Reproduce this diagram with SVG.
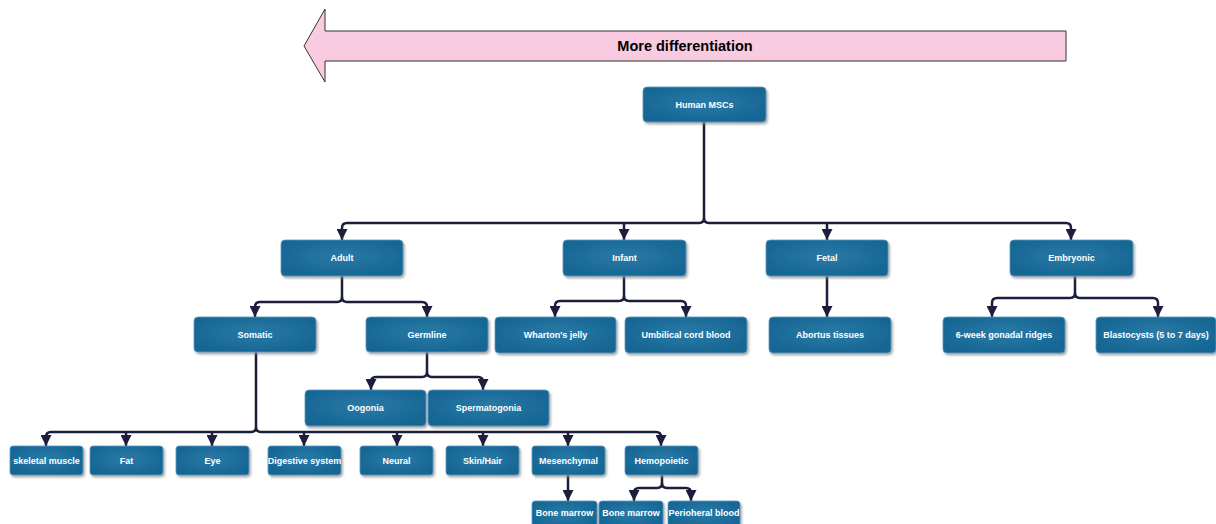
<svg xmlns="http://www.w3.org/2000/svg" width="1216" height="524" viewBox="0 0 1216 524">
<defs>
<style>
.n rect{fill:url(#g);stroke:#5b9cc0;stroke-width:0.8;filter:url(#sh)}
.n text{fill:#fff;font-family:"Liberation Sans",Arial,sans-serif;font-weight:bold;font-size:9px;text-anchor:middle;dominant-baseline:central}
.c path{fill:none;stroke:#1b1f3b;stroke-width:2.5}
.c .a{marker-end:url(#ar)}
</style>
<radialGradient id="g" cx="50%" cy="45%" r="60%">
<stop offset="0" stop-color="#2a7aa6"/>
<stop offset="1" stop-color="#156593"/>
</radialGradient>
<filter id="sh" x="-10%" y="-20%" width="125%" height="150%">
<feDropShadow dx="1.5" dy="2" stdDeviation="1.2" flood-color="#888" flood-opacity="0.7"/>
</filter>
<marker id="ar" markerUnits="userSpaceOnUse" markerWidth="11" markerHeight="11" refX="10" refY="5" orient="auto" viewBox="0 0 10 10">
<path d="M0,0 L10,5 L0,10 z" fill="#1b1f3b"/>
</marker>
</defs>
<rect width="1216" height="524" fill="#fff"/>
<g id="arrow">
<path d="M304,46 L325,9 L325,31 L1066,31 L1066,61 L325,61 L325,82 Z" fill="#f9cbe0" stroke="#333" stroke-width="1"/>
<text x="685" y="46" font-family="Liberation Sans,Arial,sans-serif" font-weight="bold" font-size="14.5" text-anchor="middle" dominant-baseline="central" fill="#000">More differentiation</text>
</g>
<g class="c" id="connectors">
<path class="a" d="M704,122 V218 Q704,223 699,223 H347 Q342,223 342,228 V240"/>
<path class="a" d="M704,218 Q704,223 709,223 H1066 Q1071,223 1071,228 V240"/>
<path class="a" d="M624,223 V240"/>
<path class="a" d="M827,223 V240"/>
<path class="a" d="M342,276 V297 Q342,302 337,302 H260 Q255,302 255,307 V317"/>
<path class="a" d="M342,297 Q342,302 347,302 H422 Q427,302 427,307 V317"/>
<path class="a" d="M624,276 V296 Q624,301 619,301 H560 Q555,301 555,306 V317"/>
<path class="a" d="M624,296 Q624,301 629,301 H681 Q686,301 686,306 V317"/>
<path class="a" d="M827,276 V317"/>
<path class="a" d="M1075,276 V293 Q1075,298 1070,298 H997 Q992,298 992,303 V317"/>
<path class="a" d="M1075,293 Q1075,298 1080,298 H1153 Q1158,298 1158,303 V317"/>
<path class="a" d="M427,352 V372 Q427,377 422,377 H376 Q371,377 371,382 V390"/>
<path class="a" d="M427,372 Q427,377 432,377 H478 Q483,377 483,382 V390"/>
<path class="a" d="M256,352 V427 Q256,432 251,432 H51 Q46,432 46,437 V446"/>
<path class="a" d="M256,427 Q256,432 261,432 H656 Q661,432 661,437 V446"/>
<path class="a" d="M126,432 V446"/>
<path class="a" d="M212,432 V446"/>
<path class="a" d="M304,432 V446"/>
<path class="a" d="M397,432 V446"/>
<path class="a" d="M483,432 V446"/>
<path class="a" d="M568,432 V446"/>
<path class="a" d="M568,475 V501"/>
<path class="a" d="M662,475 V483 Q662,488 657,488 H639 Q634,488 634,493 V501"/>
<path class="a" d="M662,483 Q662,488 667,488 H686 Q691,488 691,493 V501"/>
</g>
<g class="n" id="human-mscs"><rect x="643" y="87" width="123" height="35" rx="4"/><text x="704.5" y="104.5">Human MSCs</text></g>
<g class="n" id="adult"><rect x="281" y="240" width="122" height="36" rx="4"/><text x="342" y="258">Adult</text></g>
<g class="n" id="infant"><rect x="563" y="240" width="123" height="36" rx="4"/><text x="624.5" y="258">Infant</text></g>
<g class="n" id="fetal"><rect x="766" y="240" width="122" height="36" rx="4"/><text x="827" y="258">Fetal</text></g>
<g class="n" id="embryonic"><rect x="1010" y="240" width="123" height="36" rx="4"/><text x="1071.5" y="258">Embryonic</text></g>
<g class="n" id="somatic"><rect x="194" y="317" width="122" height="35" rx="4"/><text x="255" y="334.5">Somatic</text></g>
<g class="n" id="germline"><rect x="366" y="317" width="122" height="35" rx="4"/><text x="427" y="334.5">Germline</text></g>
<g class="n" id="whartons-jelly"><rect x="495" y="317" width="121" height="36" rx="4"/><text x="555.5" y="335">Wharton's jelly</text></g>
<g class="n" id="umbilical-cord-blood"><rect x="625" y="317" width="122" height="36" rx="4"/><text x="686" y="335">Umbilical cord blood</text></g>
<g class="n" id="abortus-tissues"><rect x="769" y="317" width="122" height="36" rx="4"/><text x="830" y="335">Abortus tissues</text></g>
<g class="n" id="gonadal-ridges"><rect x="943" y="317" width="122" height="36" rx="4"/><text x="1004" y="335">6-week gonadal ridges</text></g>
<g class="n" id="blastocysts"><rect x="1096" y="317" width="120" height="36" rx="4"/><text x="1156" y="335">Blastocysts (5 to 7 days)</text></g>
<g class="n" id="oogonia"><rect x="305" y="390" width="121" height="36" rx="4"/><text x="365.5" y="408">Oogonia</text></g>
<g class="n" id="spermatogonia"><rect x="428" y="390" width="121" height="36" rx="4"/><text x="488.5" y="408">Spermatogonia</text></g>
<g class="n" id="skeletal-muscle"><rect x="10" y="446" width="73" height="29" rx="3"/><text x="46.5" y="460.5">skeletal muscle</text></g>
<g class="n" id="fat"><rect x="90" y="446" width="73" height="29" rx="3"/><text x="126.5" y="460.5">Fat</text></g>
<g class="n" id="eye"><rect x="176" y="446" width="73" height="29" rx="3"/><text x="212.5" y="460.5">Eye</text></g>
<g class="n" id="digestive-system"><rect x="268" y="446" width="73" height="29" rx="3"/><text x="304.5" y="460.5">Digestive system</text></g>
<g class="n" id="neural"><rect x="360" y="446" width="73" height="29" rx="3"/><text x="396.5" y="460.5">Neural</text></g>
<g class="n" id="skin-hair"><rect x="446" y="446" width="73" height="29" rx="3"/><text x="482.5" y="460.5">Skin/Hair</text></g>
<g class="n" id="mesenchymal"><rect x="532" y="446" width="73" height="29" rx="3"/><text x="568.5" y="460.5">Mesenchymal</text></g>
<g class="n" id="hemopoietic"><rect x="625" y="446" width="73" height="29" rx="3"/><text x="661.5" y="460.5">Hemopoietic</text></g>
<g class="n" id="bone-marrow-1"><rect x="532" y="501" width="65" height="28" rx="3"/><text x="564.5" y="513">Bone marrow</text></g>
<g class="n" id="bone-marrow-2"><rect x="599" y="501" width="64" height="28" rx="3"/><text x="631" y="513">Bone marrow</text></g>
<g class="n" id="peripheral-blood"><rect x="668" y="501" width="72" height="28" rx="3"/><text x="704" y="513">Perioheral blood</text></g>
</svg>
